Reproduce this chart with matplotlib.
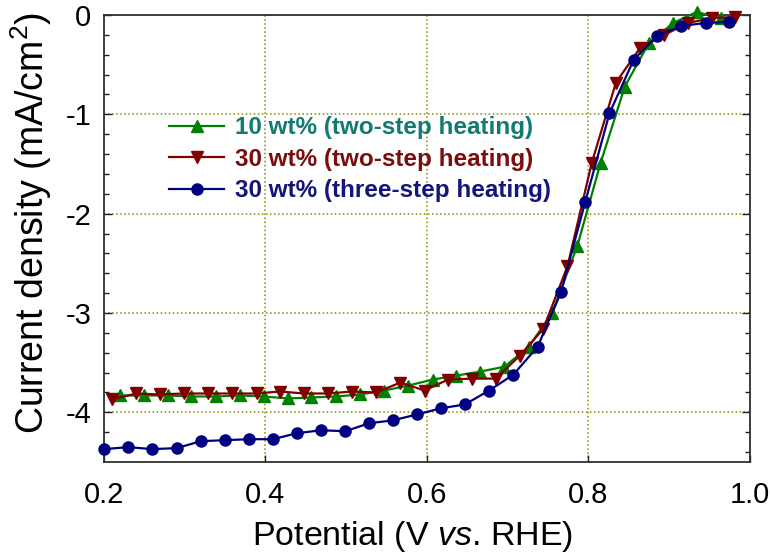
import matplotlib
matplotlib.use("Agg")
import matplotlib.pyplot as plt
from matplotlib.ticker import MultipleLocator

plt.rcParams['font.family'] = ['Liberation Sans', 'DejaVu Sans']
plt.rcParams['mathtext.fontset'] = 'custom'
plt.rcParams['mathtext.rm'] = 'Liberation Sans'
plt.rcParams['mathtext.it'] = 'Liberation Sans:italic'

# 10 wt% (two-step heating)
x_10_two = [0.220, 0.249, 0.279, 0.308, 0.339, 0.369, 0.398, 0.428, 0.457, 0.487,
            0.517, 0.547, 0.577, 0.607, 0.636, 0.666, 0.696, 0.726, 0.755, 0.786,
            0.815, 0.845, 0.875, 0.905, 0.934, 0.964]
j_10_two = [-3.83, -3.83, -3.83, -3.84, -3.84, -3.83, -3.84, -3.86, -3.85, -3.84,
            -3.82, -3.78, -3.73, -3.67, -3.63, -3.59, -3.54, -3.34, -3.00, -2.33,
            -1.49, -0.72, -0.28, -0.08, 0.03, -0.03]

# 30 wt% (two-step heating)
x_30_two = [0.210, 0.240, 0.269, 0.299, 0.329, 0.359, 0.389, 0.418, 0.448, 0.478,
            0.507, 0.537, 0.567, 0.597, 0.626, 0.656, 0.685, 0.715, 0.744, 0.774,
            0.804, 0.834, 0.864, 0.894, 0.923, 0.953, 0.982]
j_30_two = [-3.87, -3.81, -3.82, -3.81, -3.81, -3.81, -3.81, -3.79, -3.81, -3.81,
            -3.79, -3.80, -3.70, -3.78, -3.67, -3.66, -3.66, -3.43, -3.16, -2.53,
            -1.49, -0.68, -0.33, -0.20, -0.08, -0.03, -0.02]

# 30 wt% (three-step heating)
x_30_three = [0.200, 0.230, 0.260, 0.290, 0.320, 0.350, 0.380, 0.409, 0.439, 0.469,
              0.499, 0.528, 0.558, 0.588, 0.617, 0.647, 0.677, 0.707, 0.737, 0.766,
              0.796, 0.826, 0.856, 0.885, 0.915, 0.945, 0.974]
j_30_three = [-4.37, -4.35, -4.37, -4.36, -4.29, -4.28, -4.27, -4.27, -4.21, -4.18,
              -4.19, -4.11, -4.08, -4.02, -3.96, -3.92, -3.78, -3.62, -3.34, -2.79,
              -1.88, -0.99, -0.45, -0.21, -0.11, -0.08, -0.07]

labels = ['10 wt% (two-step heating)',
          '30 wt% (two-step heating)',
          '30 wt% (three-step heating)']
line_colors = ['#008000', '#800000', '#000080']
text_colors = ['#137a72', '#7a0e0e', '#14147a']
markers = ['^', 'v', 'o']

fig = plt.figure(figsize=(7.7, 5.56), dpi=100)
ax = fig.add_axes([0.135, 0.169, 0.839, 0.804])

series = [(x_10_two, j_10_two), (x_30_two, j_30_two), (x_30_three, j_30_three)]
for (xs, ys), c, m, lab in zip(series, line_colors, markers, labels):
    ax.plot(xs, ys, color=c, marker=m, markersize=8, linewidth=1.6,
            label=lab, clip_on=False, zorder=3)

ax.set_xlim(0.2, 1.0)
ax.set_ylim(-4.5, 0)
ax.yaxis.set_minor_locator(MultipleLocator(0.2))
ax.set_xticks([0.2, 0.4, 0.6, 0.8, 1.0])
ax.set_xticklabels(['0.2', '0.4', '0.6', '0.8', '1.0'])
ax.set_yticks([0, -1, -2, -3, -4])
ax.set_yticklabels(['0', '-1', '-2', '-3', '-4'])

ax.tick_params(which='both', direction='in', left=True, right=True, top=False,
               labelsize=21, width=1, color='#202020')
ax.tick_params(axis='x', which='major', length=5, pad=14)
ax.tick_params(axis='y', which='major', length=6, pad=9)
ax.tick_params(axis='y', which='minor', length=3.5)
for s in ax.spines.values():
    s.set_linewidth(1.3)
    s.set_color('#303030')

ax.grid(True, which='major', linestyle=':', color='#8a8a00', linewidth=1.1)
ax.set_axisbelow(True)

ax.set_xlabel(r'Potential (V $\mathit{vs}$. RHE)', fontsize=24.5)
ax.set_ylabel(r'Current density (mA/cm$^2$)', fontsize=27)
ax.xaxis.set_label_coords(0.477, -0.128)
ax.yaxis.set_label_coords(-0.078, 0.535)

leg = ax.legend(loc='upper left', bbox_to_anchor=(0.085, 0.795), frameon=False,
                handlelength=2.3, handletextpad=0.45, labelspacing=0.35,
                prop={'weight': 'bold', 'size': 17.5}, borderaxespad=0)
for t, c in zip(leg.get_texts(), text_colors):
    t.set_color(c)

fig.savefig('out.png', dpi=100)
